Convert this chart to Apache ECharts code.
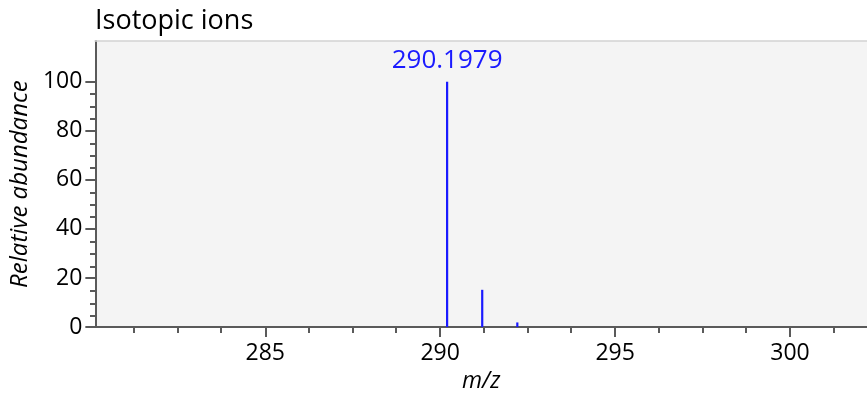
<!DOCTYPE html>
<html>
<head>
<meta charset="utf-8">
<script src="https://cdn.jsdelivr.net/npm/echarts@6/dist/echarts.min.js"></script>
<style>
  html, body { margin: 0; padding: 0; background: #ffffff; }
  #chart { width: 867px; height: 398px; }
</style>
</head>
<body>
<div id="chart"></div>
<script>
// Isotope pattern: m/z of each isotopic peak and its relative abundance (%)
const chartTitle = 'Isotopic ions';
const xAxisName = 'm/z';
const yAxisName = 'Relative abundance';
const peakMz = [290.1979, 291.2013, 292.2046];
const peakAbundance = [100, 15.2, 1.9];
const labelledPeak = 290.1979;

// Axis ranges and tick values
const xRange = [280.143, 302.2];
const yRange = [0, 116.6];
const xTicks = [285, 290, 295, 300];
const yTicks = [0, 20, 40, 60, 80, 100];
const xMinorStep = 1.25;
const yMinorStep = 5;

// Minor ticks sit between the labelled ones
function minorValues(lo, hi, step, majors) {
  const out = [];
  const start = Math.ceil(lo / step) * step;
  for (let v = start; v <= hi + 1e-9; v += step) {
    const r = Math.round(v * 1000) / 1000;
    if (!majors.includes(r) && r > lo && r < hi) out.push(r);
  }
  return out;
}
const xMinor = minorValues(xRange[0], xRange[1], xMinorStep, xTicks);
const yMinor = minorValues(yRange[0], 105, yMinorStep, yTicks);

const FONT = '"Open Sans", "Liberation Sans", sans-serif';
const AXIS_GREY = '#5a5a5a';
const FRAME_GREY = '#d2d2d2';
const PEAK_BLUE = '#1a1aff';

const chart = echarts.init(document.getElementById('chart'), null, { renderer: 'canvas' });

const gridBox = { left: 95, right: 0, top: 41, bottom: 70 };

chart.setOption({
  animation: false,
  backgroundColor: '#ffffff',
  title: {
    text: chartTitle,
    left: 95,
    top: 8,
    padding: 0,
    textStyle: { fontFamily: FONT, fontSize: 27, fontWeight: 'normal', color: '#000000' }
  },
  grid: [
    Object.assign({ show: true, backgroundColor: '#f4f4f4', borderWidth: 0 }, gridBox),
    Object.assign({ show: false }, gridBox)
  ],
  xAxis: [
    {
      type: 'value',
      gridIndex: 0,
      position: 'bottom',
      min: xRange[0],
      max: xRange[1],
      name: xAxisName,
      nameLocation: 'middle',
      nameGap: 41,
      nameTextStyle: { fontFamily: FONT, fontSize: 23, fontStyle: 'italic', color: '#000000' },
      axisLine: { show: true, onZero: false, lineStyle: { color: AXIS_GREY, width: 2 } },
      axisTick: { show: true, length: 10, customValues: xTicks, lineStyle: { color: AXIS_GREY, width: 2 } },
      axisLabel: { customValues: xTicks, margin: 15, fontFamily: FONT, fontSize: 23, color: '#000000' },
      splitLine: { show: false }
    },
    {
      type: 'value',
      gridIndex: 1,
      position: 'bottom',
      min: xRange[0],
      max: xRange[1],
      axisLine: { show: false },
      axisTick: { show: true, length: 5, customValues: xMinor, lineStyle: { color: AXIS_GREY, width: 2 } },
      axisLabel: { show: false },
      splitLine: { show: false }
    },
    {
      // thin frame line along the top of the plot
      type: 'value',
      gridIndex: 1,
      position: 'top',
      min: xRange[0],
      max: xRange[1],
      axisLine: { show: true, onZero: false, lineStyle: { color: FRAME_GREY, width: 1.5 } },
      axisTick: { show: false },
      axisLabel: { show: false },
      splitLine: { show: false }
    }
  ],
  yAxis: [
    {
      type: 'value',
      gridIndex: 0,
      min: yRange[0],
      max: yRange[1],
      name: yAxisName,
      nameLocation: 'middle',
      nameRotate: 90,
      nameGap: 60,
      nameTextStyle: { fontFamily: FONT, fontSize: 24, fontStyle: 'italic', color: '#000000' },
      axisLine: { show: true, onZero: false, lineStyle: { color: AXIS_GREY, width: 2 } },
      axisTick: { show: true, length: 10, customValues: yTicks, lineStyle: { color: AXIS_GREY, width: 2 } },
      axisLabel: { customValues: yTicks, margin: 13, fontFamily: FONT, fontSize: 23, color: '#000000' },
      splitLine: { show: false }
    },
    {
      type: 'value',
      gridIndex: 1,
      min: yRange[0],
      max: yRange[1],
      axisLine: { show: false },
      axisTick: { show: true, length: 5, customValues: yMinor, lineStyle: { color: AXIS_GREY, width: 2 } },
      axisLabel: { show: false },
      splitLine: { show: false }
    }
  ],
  series: [
    {
      type: 'custom',
      xAxisIndex: 0,
      yAxisIndex: 0,
      clip: true,
      data: peakMz.map((mz, i) => [mz, peakAbundance[i]]),
      renderItem: function (params, api) {
        const mz = api.value(0);
        const ab = api.value(1);
        const base = api.coord([mz, 0]);
        const tip = api.coord([mz, ab]);
        const children = [{
          type: 'line',
          shape: { x1: base[0], y1: base[1], x2: tip[0], y2: tip[1] },
          style: { stroke: PEAK_BLUE, lineWidth: 2.2 }
        }];
        if (mz === labelledPeak) {
          children.push({
            type: 'text',
            x: tip[0],
            y: tip[1] - 8,
            style: {
              text: mz.toFixed(4),
              fill: PEAK_BLUE,
              font: '26px ' + FONT,
              align: 'center',
              verticalAlign: 'bottom'
            }
          });
        }
        return { type: 'group', children: children };
      }
    }
  ]
});
</script>
</body>
</html>
